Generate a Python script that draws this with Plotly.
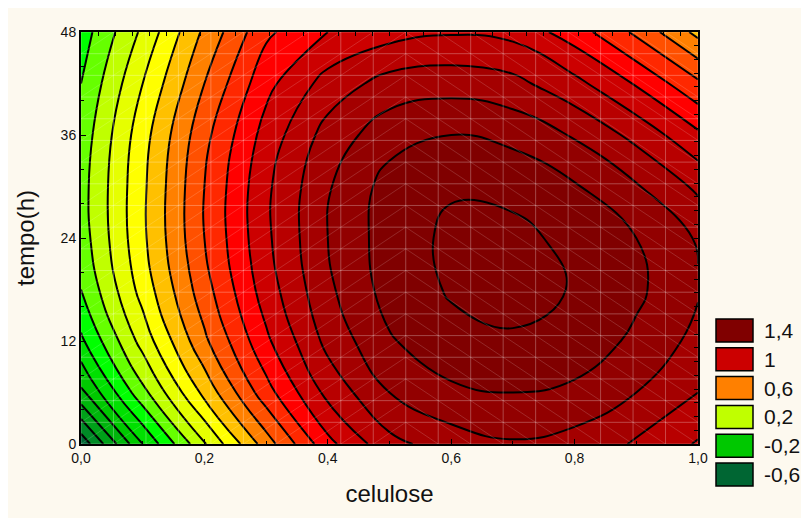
import numpy as np
import plotly.graph_objects as go

# ---- data ----
celulose = [0.0, 0.1, 0.2, 0.3, 0.4, 0.5, 0.6, 0.7, 0.8, 0.9, 1.0]
tempo = [0, 6, 12, 18, 24, 30, 36, 42, 48]
# rows follow tempo (bottom -> top), columns follow celulose
z_y00 = [-0.57, -0.10, 0.29, 0.65, 0.97, 1.17, 1.25, 1.29, 1.26, 1.19, 1.09]
z_y06 = [-0.22, 0.17, 0.53, 0.86, 1.13, 1.30, 1.38, 1.40, 1.38, 1.30, 1.20]
z_y12 = [-0.02, 0.34, 0.68, 0.98, 1.23, 1.39, 1.47, 1.49, 1.46, 1.38, 1.27]
z_y18 = [0.10, 0.44, 0.76, 1.05, 1.28, 1.44, 1.51, 1.53, 1.495, 1.42, 1.31]
z_y24 = [0.15, 0.48, 0.80, 1.08, 1.30, 1.45, 1.52, 1.52, 1.48, 1.40, 1.29]
z_y30 = [0.16, 0.48, 0.80, 1.08, 1.29, 1.44, 1.49, 1.48, 1.41, 1.31, 1.18]
z_y36 = [0.14, 0.46, 0.77, 1.04, 1.24, 1.36, 1.40, 1.37, 1.29, 1.17, 1.02]
z_y42 = [0.10, 0.40, 0.70, 0.97, 1.14, 1.24, 1.26, 1.23, 1.13, 0.99, 0.82]
z_y48 = [0.05, 0.32, 0.62, 0.88, 1.00, 1.06, 1.09, 1.07, 0.95, 0.78, 0.57]
z_rows = [z_y00, z_y06, z_y12, z_y18, z_y24, z_y30, z_y36, z_y42, z_y48]

x_tickvals = [0.0, 0.2, 0.4, 0.6, 0.8, 1.0]
x_ticktext = ["0,0", "0,2", "0,4", "0,6", "0,8", "1,0"]
y_tickvals = [0, 12, 24, 36, 48]
y_ticktext = ["0", "12", "24", "36", "48"]

legend_levels = ["1,4", "1", "0,6", "0,2", "-0,2", "-0,6"]
legend_colors = ["#800000", "#CC0000", "#FF8000", "#C0FF00", "#00C800", "#006633"]

# ---- styling ----
LEVEL_START, LEVEL_END, LEVEL_STEP = -0.6, 1.5, 0.1
band_colors = [
    "#006633",  # below start
    "#006633", "#008A26", "#00A019", "#00B50C", "#00C800", "#00E000",
    "#00FF00", "#66FF00", "#C0FF00", "#E6FF00", "#FFFF00", "#FFC000",
    "#FF8000", "#FF5000", "#FF2800", "#FF0000", "#CC0000", "#B80000",
    "#A40000", "#920000", "#800000", "#800000",
]
n = len(band_colors) - 1
colorscale = [[i / n, c] for i, c in enumerate(band_colors)]

FONT = "Liberation Sans, Arial, sans-serif"
CREAM = "#FDF9EF"
MESH_N = 20  # surface mesh resolution drawn as faint white lines
X_RANGE, Y_RANGE = [0, 1], [0, 48]

fig = go.Figure()
contour_levels = dict(start=LEVEL_START, end=LEVEL_END, size=LEVEL_STEP)
fig.add_trace(go.Contour(
    x=celulose, y=tempo, z=z_rows,
    contours=dict(coloring="fill", **contour_levels),
    colorscale=colorscale,
    line=dict(width=0, smoothing=1.3),
    showscale=False, hoverinfo="skip",
))

# faint mesh (decoration), drawn on the overlay axes
mx = np.linspace(X_RANGE[0], X_RANGE[1], MESH_N)
my = np.linspace(Y_RANGE[0], Y_RANGE[1], MESH_N)
gx, gy = [], []
for v in mx:
    gx += [v, v, None]; gy += [Y_RANGE[0], Y_RANGE[1], None]
for v in my:
    gx += [X_RANGE[0], X_RANGE[1], None]; gy += [v, v, None]
fig.add_trace(go.Scatter(x=gx, y=gy, mode="lines", hoverinfo="skip", xaxis="x2", yaxis="y2",
                         line=dict(color="rgba(255,255,255,0.28)", width=1)))
dx, dy = [], []
for i in range(MESH_N - 1):
    for j in range(MESH_N - 1):
        if i < (MESH_N - 1) // 2 + 1:
            dx += [mx[i], mx[i + 1], None]; dy += [my[j], my[j + 1], None]
        else:
            dx += [mx[i], mx[i + 1], None]; dy += [my[j + 1], my[j], None]
fig.add_trace(go.Scatter(x=dx, y=dy, mode="lines", hoverinfo="skip", xaxis="x2", yaxis="y2",
                         line=dict(color="rgba(255,255,255,0.2)", width=0.8)))

fig.add_trace(go.Contour(
    x=celulose, y=tempo, z=z_rows, xaxis="x2", yaxis="y2",
    contours=dict(coloring="none", **contour_levels),
    line=dict(color="black", width=2, smoothing=1.3),
    showscale=False, hoverinfo="skip",
))

W, H = 801, 510
L, T = 73, 24
R, B = W - 690, H - 436
pw, ph = W - L - R, H - T - B

def px_to_paper_x(px):
    return (px - L) / pw

def px_to_paper_y(py):
    return (H - B - py) / ph

shapes = []
annotations = []
box_w, box_h, pitch = 37, 23, 28.8
box_left, box_top0 = 708, 311
for i, (lab, col) in enumerate(zip(legend_levels, legend_colors)):
    top = box_top0 + i * pitch
    shapes.append(dict(type="rect", xref="paper", yref="paper", layer="above",
                       x0=px_to_paper_x(box_left), x1=px_to_paper_x(box_left + box_w),
                       y0=px_to_paper_y(top + box_h), y1=px_to_paper_y(top),
                       fillcolor=col, line=dict(color="black", width=1.5)))
    annotations.append(dict(xref="paper", yref="paper", x=px_to_paper_x(754),
                            y=px_to_paper_y(top + box_h / 2), text=lab, showarrow=False,
                            xanchor="left", yanchor="middle",
                            font=dict(family=FONT, size=21, color="#111")))

axis_common = dict(showline=True, linecolor="black", linewidth=2, mirror=True,
                   ticks="inside", ticklen=5, tickwidth=1, tickcolor="black",
                   showgrid=False, zeroline=False, layer="above traces",
                   tickfont=dict(family=FONT, size=14, color="#111"))
overlay_common = dict(showline=False, showgrid=False, zeroline=False, showticklabels=False,
                      ticks="inside", ticklen=4, tickwidth=1, tickcolor="black",
                      layer="above traces", tickmode="linear")

fig.update_layout(
    width=W, height=H,
    margin=dict(l=L, r=R, t=T, b=B, pad=0),
    paper_bgcolor=CREAM, plot_bgcolor=CREAM,
    showlegend=False,
    shapes=shapes, annotations=annotations,
    xaxis=dict(range=X_RANGE, tickvals=x_tickvals, ticktext=x_ticktext,
               title=dict(text="celulose", font=dict(family=FONT, size=24, color="#111"), standoff=20),
               minor=dict(dtick=0.1, ticks="inside", ticklen=3, tickcolor="black"),
               **axis_common),
    yaxis=dict(range=Y_RANGE, tickvals=y_tickvals, ticktext=y_ticktext,
               title=dict(text="tempo(h)", font=dict(family=FONT, size=24, color="#111"), standoff=19),
               minor=dict(dtick=4, ticks="inside", ticklen=3, tickcolor="black"),
               **axis_common),
    xaxis2=dict(range=X_RANGE, overlaying="x", side="top", anchor="y2",
                tick0=0, dtick=1 / 36, **overlay_common),
    yaxis2=dict(range=Y_RANGE, overlaying="y", side="right", anchor="x2",
                tick0=0, dtick=1.6, **overlay_common),
)

fig.write_html("out.html")
